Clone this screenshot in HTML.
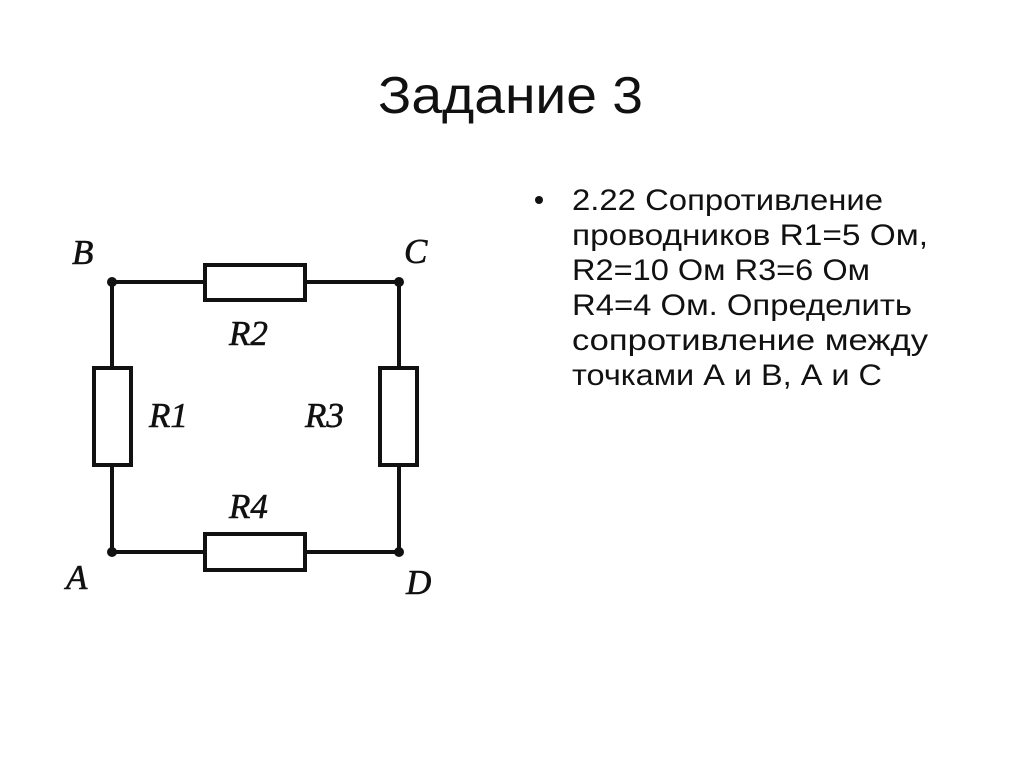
<!DOCTYPE html>
<html><head><meta charset="utf-8"><style>
html,body{margin:0;padding:0;background:#fff;}
svg{display:block;}
</style></head><body>
<svg width="1024" height="767" viewBox="0 0 1024 767" xmlns="http://www.w3.org/2000/svg">
<rect width="1024" height="767" fill="#fff"/>
<text x="378" y="113" font-family="Liberation Sans, sans-serif" font-size="52" fill="#111" textLength="265" lengthAdjust="spacingAndGlyphs">Задание 3</text>
<g font-family="Liberation Sans, sans-serif" font-size="30" fill="#111">
<circle cx="539" cy="200" r="4" fill="#111"/>
<text x="572" y="210" textLength="311" lengthAdjust="spacingAndGlyphs">2.22 Сопротивление</text>
<text x="572" y="245" textLength="356" lengthAdjust="spacingAndGlyphs">проводников R1=5 Ом,</text>
<text x="572" y="280" textLength="298" lengthAdjust="spacingAndGlyphs">R2=10 Ом  R3=6 Ом</text>
<text x="572" y="315" textLength="340" lengthAdjust="spacingAndGlyphs">R4=4 Ом. Определить</text>
<text x="572" y="350" textLength="356" lengthAdjust="spacingAndGlyphs">сопротивление между</text>
<text x="572" y="385" textLength="310" lengthAdjust="spacingAndGlyphs">точками А и В, А и С</text>
</g>
<g stroke="#111" stroke-width="4" fill="none">
<path d="M112 282 H203 M307 282 H399 V366 M399 466 V552 H307 M203 552 H112 V466 M112 366 V282"/>
<rect x="205" y="265" width="100" height="35" fill="#fff"/>
<rect x="205" y="534" width="100" height="36" fill="#fff"/>
<rect x="94" y="368" width="37" height="97" fill="#fff"/>
<rect x="380" y="368" width="37" height="97" fill="#fff"/>
</g>
<g fill="#111">
<circle cx="112" cy="282" r="5"/><circle cx="399" cy="282" r="5"/>
<circle cx="112" cy="552" r="5"/><circle cx="399" cy="552" r="5"/>
</g>
<g font-family="Liberation Serif, serif" font-style="italic" font-size="35" fill="#111" stroke="#111" stroke-width="0.6">
<text x="72" y="264">B</text>
<text x="404" y="263">C</text>
<text x="66" y="589">A</text>
<text x="406" y="594">D</text>
<text x="229" y="345">R2</text>
<text x="149" y="427">R1</text>
<text x="305" y="427">R3</text>
<text x="229" y="518">R4</text>
</g>
</svg>
</body></html>
